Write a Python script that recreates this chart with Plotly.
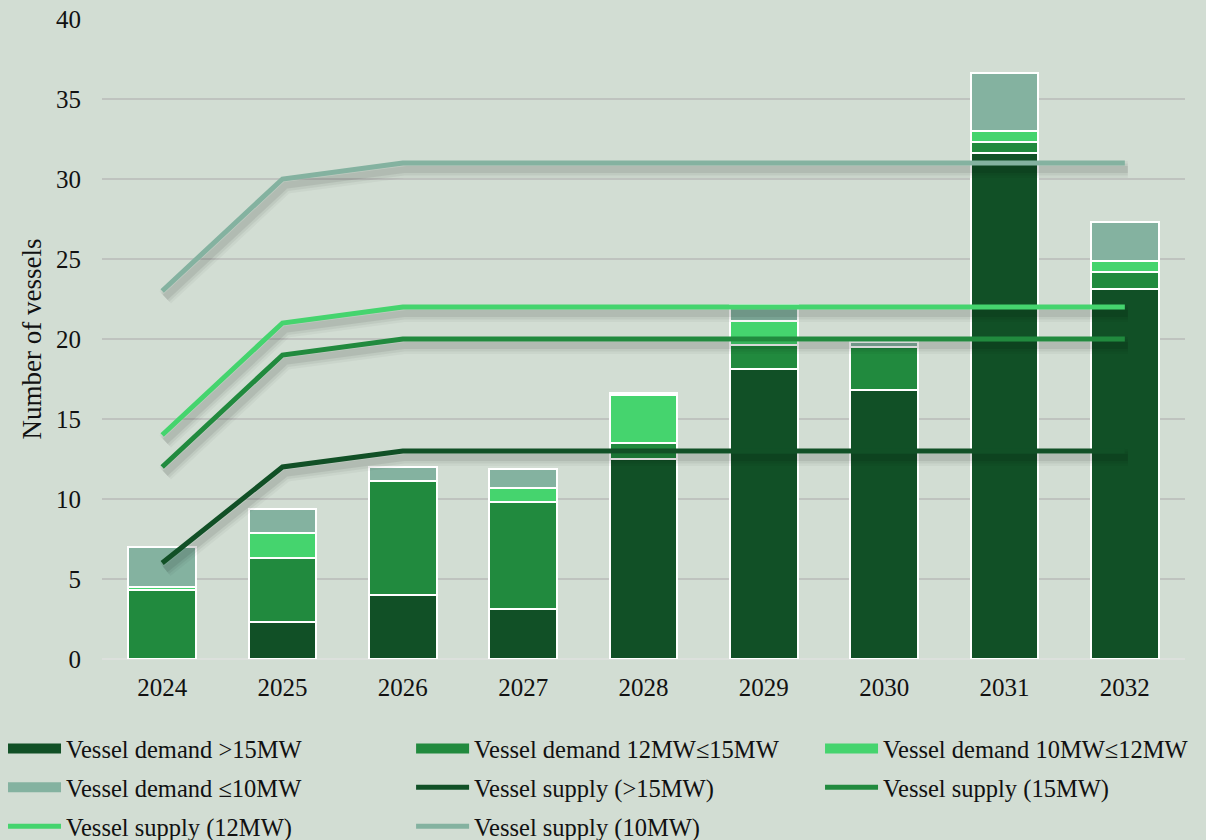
import plotly.graph_objects as go

# Years on the category axis
years = ["2024", "2025", "2026", "2027", "2028", "2029", "2030", "2031", "2032"]

# Stacked vessel demand by turbine class
demand_gt15 = [0.0, 2.3, 4.0, 3.1, 12.5, 18.1, 16.8, 31.6, 23.1]
demand_12_15 = [4.3, 4.0, 7.1, 6.7, 1.0, 1.5, 2.7, 0.7, 1.1]
demand_10_12 = [0.2, 1.6, 0.0, 0.9, 3.0, 1.5, 0.0, 0.7, 0.7]
demand_le10 = [2.5, 1.5, 0.9, 1.2, 0.1, 1.0, 0.3, 3.6, 2.4]

# Vessel supply by capability
supply_gt15 = [6, 12, 13, 13, 13, 13, 13, 13, 13]
supply_15 = [12, 19, 20, 20, 20, 20, 20, 20, 20]
supply_12 = [14, 21, 22, 22, 22, 22, 22, 22, 22]
supply_10 = [23, 30, 31, 31, 31, 31, 31, 31, 31]

C_DARK = "#115026"
C_MID = "#218A3E"
C_LIGHT = "#45D46E"
C_GREY = "#84B2A0"
BG = "#D2DDD3"
FONT = "Liberation Serif"
TXT = "#111111"

fig = go.Figure()

# (name, values, colour, legend column)
bars = [
    ("Vessel demand >15MW", demand_gt15, C_DARK, "legend"),
    ("Vessel demand 12MW≤15MW", demand_12_15, C_MID, "legend2"),
    ("Vessel demand 10MW≤12MW", demand_10_12, C_LIGHT, "legend3"),
    ("Vessel demand ≤10MW", demand_le10, C_GREY, "legend"),
]
lines = [
    ("Vessel supply (>15MW)", supply_gt15, C_DARK, "legend2"),
    ("Vessel supply (15MW)", supply_15, C_MID, "legend3"),
    ("Vessel supply (12MW)", supply_12, C_LIGHT, "legend"),
    ("Vessel supply (10MW)", supply_10, C_GREY, "legend2"),
]

for name, vals, col, _ in bars:
    fig.add_trace(go.Bar(
        x=years, y=vals, name=name, showlegend=False,
        marker=dict(color=col, line=dict(color="white", width=2)),
        xaxis="x", yaxis="y",
    ))

# Soft drop shadows under the supply lines, on an offset overlay axis
for name, vals, col, _ in lines:
    for w, op in [(17, 0.035), (12, 0.05), (7, 0.07)]:
        fig.add_trace(go.Scatter(
            x=years, y=vals, mode="lines", showlegend=False, hoverinfo="skip",
            line=dict(color=f"rgba(0,0,0,{op})", width=w),
            xaxis="x2", yaxis="y2",
        ))

for name, vals, col, _ in lines:
    fig.add_trace(go.Scatter(
        x=years, y=vals, mode="lines", name=name, showlegend=False,
        line=dict(color=col, width=5),
        xaxis="x3", yaxis="y3",
    ))

# Legend entries: wide swatches for demand bars, thinner strokes for supply lines
for i, (name, vals, col, lg) in enumerate(bars):
    fig.add_trace(go.Scatter(
        x=[None], y=[None], mode="lines", name=name, legend=lg, legendgroup=f"d{i}",
        line=dict(color=col, width=10), xaxis="x3", yaxis="y3",
    ))
for i, (name, vals, col, lg) in enumerate(lines):
    fig.add_trace(go.Scatter(
        x=[None], y=[None], mode="lines", name=name, legend=lg, legendgroup=f"s{i}",
        line=dict(color=col, width=5), xaxis="x3", yaxis="y3",
    ))

tick_font = dict(family=FONT, size=25, color=TXT)
legend_font = dict(family=FONT, size=24.5, color=TXT)


def legend_col(x):
    return dict(
        orientation="v", x=x, xanchor="left", y=-0.1047, yanchor="top",
        itemwidth=53, tracegroupgap=4, traceorder="grouped",
        font=legend_font, bgcolor="rgba(0,0,0,0)",
    )


fig.update_layout(
    barmode="stack",
    bargap=0.435,
    paper_bgcolor=BG,
    plot_bgcolor=BG,
    width=1206, height=840,
    margin=dict(l=102, r=21, t=19, b=181, autoexpand=False),
    font=dict(family=FONT, size=24, color=TXT),
    xaxis=dict(
        type="category", range=[-0.5, 8.5], showgrid=False, zeroline=False,
        showline=False, tickfont=tick_font, ticks="", ticklabelstandoff=11,
    ),
    yaxis=dict(
        range=[0, 40], dtick=5, showgrid=True, gridcolor="#BFC3BF", gridwidth=2,
        zeroline=True, zerolinecolor="#DCE0DC", zerolinewidth=2,
        tickfont=tick_font, ticks="", ticklabelstandoff=20,
        title=dict(text="Number of vessels", font=dict(family=FONT, size=27), standoff=6),
    ),
    xaxis2=dict(type="category", overlaying="x", range=[-0.525, 8.475], visible=False,
                categoryarray=years, categoryorder="array"),
    yaxis2=dict(overlaying="y", range=[0.4, 40.4], visible=False),
    xaxis3=dict(type="category", overlaying="x", range=[-0.5, 8.5], visible=False,
                categoryarray=years, categoryorder="array"),
    yaxis3=dict(overlaying="y", range=[0, 40], visible=False),
    legend=legend_col(-0.0914),
    legend2=legend_col(0.2854),
    legend3=legend_col(0.663),
)

fig.write_html("out.html")
